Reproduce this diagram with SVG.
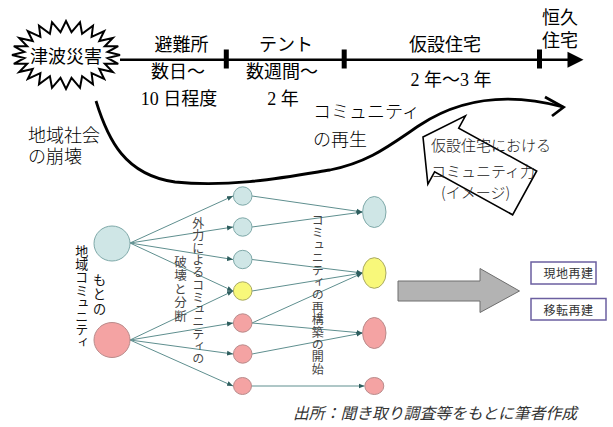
<svg xmlns="http://www.w3.org/2000/svg" width="613" height="427" viewBox="0 0 613 427">
<style>
.jp{font-family:"Noto Sans CJK JP",sans-serif;}
.tl{font-family:"Liberation Serif","Noto Sans CJK JP",serif;font-size:18px;fill:#000;text-anchor:middle;}
.lbl{font-family:"Noto Sans CJK JP",sans-serif;font-size:18px;fill:#000;font-weight:300;}
.arrtxt{font-family:"Noto Sans CJK JP",sans-serif;font-size:15px;fill:#222;font-weight:300;}
.vt{font-family:"Noto Sans CJK JP",sans-serif;writing-mode:vertical-rl;fill:#444;}
.vk{font-family:"Noto Sans CJK JP",sans-serif;writing-mode:vertical-rl;fill:#111;}
.edge{stroke:#5f8f8f;stroke-width:1;fill:none;marker-end:url(#ah);}
.nb{fill:#cfe6e6;stroke:#7fa9a9;stroke-width:1;}
.ny{fill:#f8f87a;stroke:#a9a962;stroke-width:1;}
.np{fill:#f4a3a3;stroke:#b98b8b;stroke-width:1;}
.box{fill:#fff;stroke:#6b5fa0;stroke-width:1.5;}
.boxt{font-family:"Noto Sans CJK JP",sans-serif;font-size:12px;fill:#333;letter-spacing:0.5px;}
</style>
<defs>
<marker id="ah" markerWidth="7" markerHeight="6" refX="6" refY="3" orient="auto" markerUnits="userSpaceOnUse">
<path d="M0,0.5 L6,3 L0,5.5 z" fill="#2e5e5e"/>
</marker>
</defs>
<rect width="613" height="427" fill="#fff"/>

<!-- timeline -->
<g id="timeline">
<line x1="120" y1="59.7" x2="569" y2="59.7" stroke="#000" stroke-width="2.5"/>
<polygon points="583.5,59.7 567.5,51.7 567.5,67.7" fill="#000"/>
<rect x="223.8" y="49.5" width="5" height="19" fill="#000"/>
<rect x="341.7" y="49.5" width="5" height="19" fill="#000"/>
<rect x="537" y="49.5" width="5" height="19" fill="#000"/>
<text class="tl" x="181.5" y="50.5">避難所</text>
<text class="tl" x="286" y="50.5">テント</text>
<text class="tl" x="445" y="50.5">仮設住宅</text>
<text class="tl" x="560" y="23.5">恒久</text>
<text class="tl" x="560" y="47">住宅</text>
<text class="tl" x="178" y="77.5">数日～</text>
<text class="tl" x="179" y="104.5">10 日程度</text>
<text class="tl" x="282" y="77.5">数週間～</text>
<text class="tl" x="283" y="104.5">2 年</text>
<text class="tl" x="451" y="85.5">2 年～3 年</text>
</g>

<!-- starburst -->
<g id="tsunami">
<polygon points="120,55 107.6,58 118.2,63.8 104.8,63.8 112.8,72 99.3,69 104.2,79 91.6,73.2 93,84.4 82.1,76.2 80,87.8 71.5,77.8 66,89 60.5,77.8 52,87.8 49.9,76.2 39,84.4 40.4,73.2 27.8,79 32.7,69 19.2,72 27.2,63.8 13.8,63.8 24.4,58 12,55 24.4,52 13.8,46.2 27.2,46.2 19.2,38 32.7,41 27.8,31 40.4,36.8 39,25.6 49.9,33.8 52,22.2 60.5,32.2 66,21 71.5,32.2 80,22.2 82.1,33.8 93,25.6 91.6,36.8 104.2,31 99.3,41 112.8,38 104.8,46.2 118.2,46.2 107.6,52" fill="#fff" stroke="#000" stroke-width="2" stroke-linejoin="miter"/>
<text class="jp" x="66" y="63" font-size="18" text-anchor="middle" fill="#000">津波災害</text>
</g>

<!-- big curve -->
<g id="curve">
<path d="M96,101 C108,140 125,175 175,182 C230,188 287,177 330,170 C370,162 390,145 420,125 C455,102 500,90 563,107" fill="none" stroke="#000" stroke-width="2.8"/>
<polyline points="545,97 563.5,107.3 552,116" fill="none" stroke="#000" stroke-width="2.8" stroke-linejoin="miter"/>
</g>

<g id="labels">
<text class="lbl" x="28" y="142">地域社会</text>
<text class="lbl" x="28" y="163">の崩壊</text>
<text class="lbl" x="313" y="117.5">コミュニティ</text>
<text class="lbl" x="313" y="146">の再生</text>
</g>

<!-- hollow arrow -->
<g id="community-arrow">
<polygon transform="translate(423,137) rotate(28.8)" points="0,0 27,-39 27,-25 116,-25 116,25 27,25 27,39" fill="#fff" stroke="#000" stroke-width="1.6" stroke-linejoin="miter"/>
<text class="arrtxt" x="431" y="151">仮設住宅における</text>
<text class="arrtxt" x="431" y="177">コミュニティ力</text>
<text class="arrtxt" x="441" y="198">(イメージ)</text>
</g>

<!-- network connectors -->
<g id="connectors">
<line class="edge" x1="130" y1="243" x2="233" y2="196"/>
<line class="edge" x1="130" y1="243" x2="233" y2="227"/>
<line class="edge" x1="130" y1="243" x2="233" y2="259.5"/>
<line class="edge" x1="130" y1="243" x2="233" y2="291"/>
<line class="edge" x1="130" y1="340" x2="233" y2="291"/>
<line class="edge" x1="130" y1="340" x2="233" y2="323"/>
<line class="edge" x1="130" y1="340" x2="233" y2="354"/>
<line class="edge" x1="130" y1="340" x2="233" y2="386"/>
<line class="edge" x1="252" y1="196" x2="362.5" y2="212"/>
<line class="edge" x1="252" y1="227" x2="362.5" y2="212"/>
<line class="edge" x1="252" y1="259.5" x2="362.5" y2="273"/>
<line class="edge" x1="252" y1="291" x2="362.5" y2="273"/>
<line class="edge" x1="252" y1="323" x2="362.5" y2="273"/>
<line class="edge" x1="252" y1="323" x2="362.5" y2="333"/>
<line class="edge" x1="252" y1="354" x2="362.5" y2="333"/>
<line class="edge" x1="251.5" y1="386" x2="364.5" y2="386"/>
</g>

<!-- network nodes -->
<g id="orig-blue"><ellipse class="nb" cx="112" cy="243.5" rx="18" ry="17.5"/></g>
<g id="orig-pink"><ellipse class="np" cx="112" cy="340" rx="18" ry="17.5"/></g>
<g id="m1"><ellipse class="nb" cx="242.7" cy="196" rx="9.3" ry="9.2"/></g>
<g id="m2"><ellipse class="nb" cx="242.7" cy="227" rx="9.3" ry="9.2"/></g>
<g id="m3"><ellipse class="nb" cx="242.7" cy="259.5" rx="9.3" ry="9.2"/></g>
<g id="m4"><ellipse class="ny" cx="242.7" cy="291" rx="9.3" ry="9.2"/></g>
<g id="m5"><ellipse class="np" cx="242.7" cy="323" rx="9.3" ry="9.2"/></g>
<g id="m6"><ellipse class="np" cx="242.7" cy="354" rx="9.3" ry="9.2"/></g>
<g id="m7"><ellipse class="np" cx="242.5" cy="386" rx="9" ry="8.5"/></g>
<g id="r1"><ellipse class="nb" cx="374.3" cy="212" rx="11.7" ry="15.5"/></g>
<g id="r2"><ellipse class="ny" cx="374.3" cy="273" rx="11.7" ry="15.3"/></g>
<g id="r3"><ellipse class="np" cx="374.3" cy="333" rx="11.7" ry="15.5"/></g>
<g id="r4"><ellipse class="np" cx="374.3" cy="386" rx="9.5" ry="8.5"/></g>

<g id="vertical-labels">
<text class="vk" x="99.5" y="273.5" font-size="13.5" letter-spacing="0.6">もとの</text>
<text class="vk" x="81.7" y="244.5" font-size="13">地域コミュニティ</text>
<text class="vt" x="198.3" y="217.5" font-size="12" letter-spacing="0.3">外力によるコミュニティの</text>
<text class="vt" x="180.5" y="255.5" font-size="12.5" letter-spacing="1">破壊と分断</text>
<text class="vt" x="317.7" y="214.5" font-size="12" letter-spacing="0.4">コミュニティの再構築の開始</text>
</g>

<!-- gray arrow -->
<g id="gray-arrow">
<polygon points="398,281 480,281 480,268.5 519.5,291 480,312.5 480,301 398,301" fill="#b3b3b3" stroke="#6e6e6e" stroke-width="1"/>
</g>

<g id="box-genchi">
<rect class="box" x="531" y="262" width="65" height="22"/>
<text class="boxt" x="543.5" y="278">現地再建</text>
</g>
<g id="box-iten">
<rect class="box" x="531" y="298.5" width="75" height="21.5"/>
<text class="boxt" x="543.5" y="315">移転再建</text>
</g>

<text class="jp" x="293" y="419" font-size="15.8" font-style="italic" fill="#333">出所：聞き取り調査等をもとに筆者作成</text>
</svg>
